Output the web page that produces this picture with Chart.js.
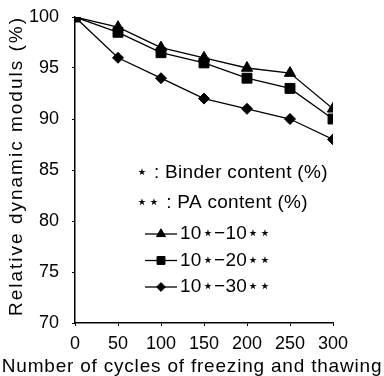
<!DOCTYPE html>
<html>
<head>
<meta charset="utf-8">
<script src="https://cdn.jsdelivr.net/npm/chart.js@4.4.1/dist/chart.umd.min.js"></script>
<style>
  html, body { margin: 0; padding: 0; background: #fff; }
</style>
</head>
<body>
<canvas id="freezeThawChart" width="384" height="376"></canvas>
<script>
// freeze-thaw cycles vs. relative dynamic modulus
const cycles = [0, 50, 100, 150, 200, 250, 300];
const pa10 = [100, 99, 97, 96, 95, 94.5, 91];
const pa20 = [100, 98.5, 96.5, 95.5, 94, 93, 90];
const pa30 = [100, 96, 94, 92, 91, 90, 88];
const seriesLabels = ['10⋆−10⋆⋆', '10⋆−20⋆⋆', '10⋆−30⋆⋆'];
const yTicks = [70, 75, 80, 85, 90, 95, 100];
const xTicks = [0, 50, 100, 150, 200, 250, 300];
const noteLines = ['⋆ : Binder content (%)', '⋆⋆ : PA content (%)'];
const xTitle = 'Number of cycles of freezing and thawing';
const yTitle = 'Relative dynamic moduls (%)';

const FONT = '"Liberation Sans", Arial, sans-serif';

function points(values) {
  return cycles.map((c, i) => ({ x: c, y: values[i] }));
}

function series(label, values, style, radius) {
  return {
    label: label,
    data: points(values),
    borderColor: '#000',
    backgroundColor: '#000',
    borderWidth: 1.3,
    pointStyle: style,
    pointRadius: radius,
    pointBorderWidth: 1,
    pointBackgroundColor: '#000',
    pointBorderColor: '#000',
    tension: 0
  };
}

// titles, notes and the inline legend
const annotate = {
  id: 'annotate',
  afterDraw(chart) {
    const ctx = chart.ctx;
    const a = chart.chartArea;
    ctx.save();
    ctx.fillStyle = '#000';
    ctx.strokeStyle = '#000';
    ctx.textBaseline = 'middle';

    ctx.font = '19px ' + FONT;
    ctx.textAlign = 'center';
    ctx.letterSpacing = '0.8px';
    ctx.fillText(xTitle, 192, 367);

    ctx.save();
    ctx.translate(17, (a.top + a.bottom) / 2 - 4);
    ctx.rotate(-Math.PI / 2);
    ctx.letterSpacing = '2px';
    ctx.fillText(yTitle, 0, 0);
    ctx.restore();

    ctx.font = '19px ' + FONT;
    ctx.textAlign = 'left';
    ctx.letterSpacing = '0.3px';
    ctx.fillText(noteLines[0], a.left + 61, a.top + 156);
    ctx.fillText(noteLines[1], a.left + 61, a.top + 186);

    // legend rows in the order of the labels
    seriesLabels.forEach((label, i) => {
      const ds = chart.data.datasets.find(d => d.label === label);
      const y = a.top + 217 + i * 26.5;
      ctx.lineWidth = 1.3;
      ctx.beginPath();
      ctx.moveTo(a.left + 70, y);
      ctx.lineTo(a.left + 102, y);
      ctx.stroke();
      ctx.lineWidth = 1;
      Chart.helpers.drawPoint(ctx, {
        pointStyle: ds.pointStyle,
        radius: ds.pointRadius * 0.8,
        borderWidth: 1,
        rotation: 0
      }, a.left + 86, y);
      ctx.fillText(label, a.left + 105, y);
    });
    ctx.restore();
  }
};

new Chart(document.getElementById('freezeThawChart'), {
  type: 'line',
  data: {
    datasets: [
      series(seriesLabels[2], pa30, 'rectRot', 5.5),
      series(seriesLabels[0], pa10, 'triangle', 6.5),
      series(seriesLabels[1], pa20, 'rect', 7)
    ]
  },
  options: {
    responsive: false,
    animation: false,
    devicePixelRatio: 1,
    layout: { padding: { top: 17, right: 51, left: 0, bottom: 0 } },
    plugins: {
      legend: { display: false },
      tooltip: { enabled: false }
    },
    scales: {
      x: {
        type: 'linear',
        min: 0,
        max: 300,
        afterFit: s => { s.height = 53; s.paddingLeft = 0; s.paddingRight = 0; },
        afterBuildTicks: s => { s.ticks = xTicks.map(v => ({ value: v })); },
        border: { display: true, color: '#000', width: 1.5 },
        grid: { display: true, drawOnChartArea: false, drawTicks: true, tickLength: 3, color: '#000' },
        ticks: { color: '#000', font: { family: FONT, size: 18 }, padding: 7, maxRotation: 0 }
      },
      y: {
        min: 70,
        max: 100,
        afterFit: s => { s.width = 75; s.paddingTop = 0; s.paddingBottom = 0; },
        afterBuildTicks: s => { s.ticks = yTicks.map(v => ({ value: v })); },
        border: { display: true, color: '#000', width: 1.5 },
        grid: { display: true, drawOnChartArea: false, drawTicks: true, tickLength: 3, color: '#000' },
        ticks: { color: '#000', font: { family: FONT, size: 18 }, padding: 13 }
      }
    }
  },
  plugins: [annotate]
});
</script>
</body>
</html>
